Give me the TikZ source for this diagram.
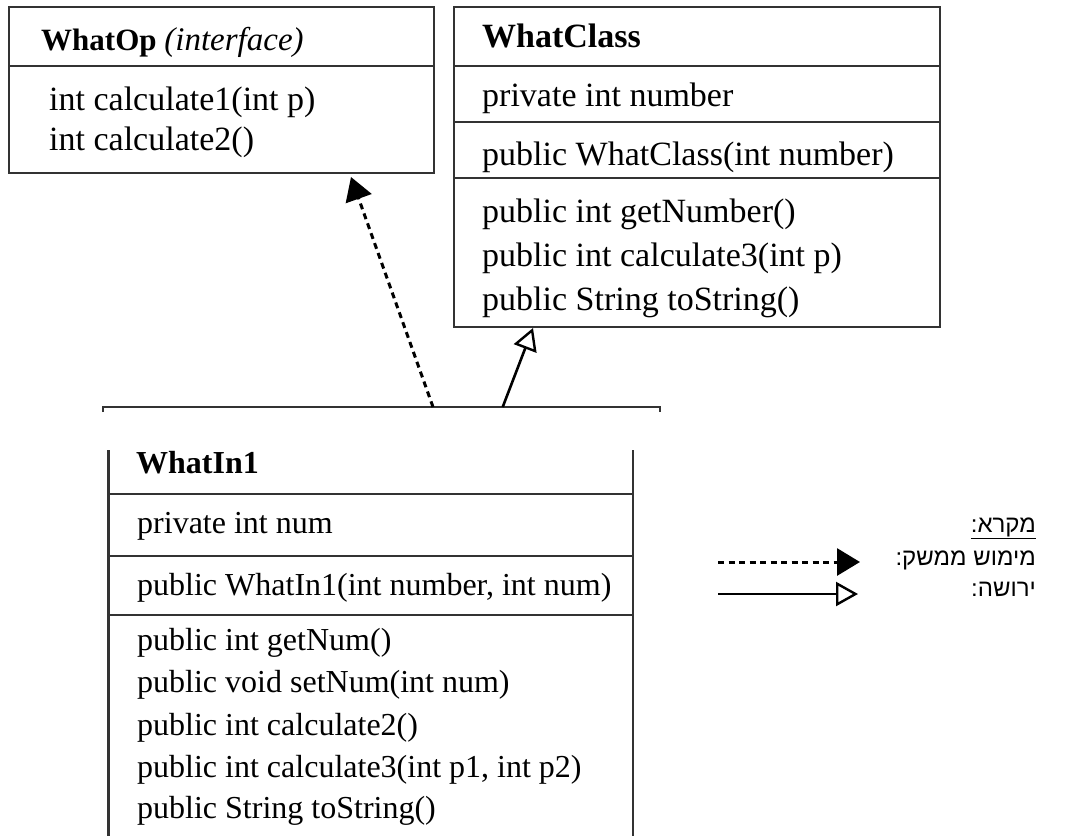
\documentclass[tikz,border=0pt]{standalone}
\usepackage{fontspec}
\setmainfont{Liberation Serif}
\newfontfamily\hebfont[Script=Hebrew]{Liberation Sans}
\TeXXeTstate=1
\usetikzlibrary{arrows.meta}

\begin{document}
\begin{tikzpicture}[x=1pt,y=-1pt,
  frame/.style={draw=black!80, line width=2.2pt, inner sep=0pt, anchor=north west},
  rule/.style={draw=black!80, line width=2.2pt},
  member/.style={anchor=base west, inner sep=0pt, font=\fontsize{34}{40}\selectfont},
  smallmember/.style={anchor=base west, inner sep=0pt, font=\fontsize{32}{38}\selectfont},
  title/.style={anchor=base west, inner sep=0pt},
  legendtext/.style={anchor=base east, inner sep=0pt, font=\hebfont\fontsize{24}{28}\selectfont},
  implements/.style={line width=3pt, dash pattern=on 6pt off 4.5pt,
    -{Triangle[length=23pt,width=27pt]}},
  extends/.style={line width=2.6pt,
    -{Triangle[open,length=22pt,width=24pt,fill=white,line width=2.4pt]}},
]
\useasboundingbox (0,0) rectangle (1068,836);

% ---- interface WhatOp
\node[frame, minimum width=425pt, minimum height=166pt] (whatop) at (8,6) {};
\draw[rule] (8,66) -- (433,66);
\node[title] (whatoptitle) at (41,50)
  {\fontsize{31}{36}\selectfont\bfseries WhatOp \mdseries\itshape\fontsize{33}{36}\selectfont(interface)};
\node[member] (op1) at (49,110) {int calculate1(int p)};
\node[member] (op2) at (49,150) {int calculate2()};

% ---- class WhatClass
\node[frame, minimum width=486pt, minimum height=320pt] (whatclass) at (453,6) {};
\draw[rule] (453,66) -- (939,66);
\draw[rule] (453,122) -- (939,122);
\draw[rule] (453,178) -- (939,178);
\node[title] (wctitle) at (482,47) {\fontsize{34}{40}\selectfont\bfseries WhatClass};
\node[member] (wcf) at (482,106) {private int number};
\node[member] (wcc) at (482,165) {public WhatClass(int number)};
\node[member] (wcm1) at (482,222) {public int getNumber()};
\node[member] (wcm2) at (482,266) {public int calculate3(int p)};
\node[member] (wcm3) at (482,310) {public String toString()};

% ---- class WhatIn1 (top edge drawn separately from the body)
\draw[rule] (102.6,412) -- (102.6,407) -- (660,407) -- (660,412);
\draw[rule] (108.5,450) -- (108.5,836);
\draw[rule] (633,450) -- (633,836);
\draw[rule] (108.5,494) -- (633,494);
\draw[rule] (108.5,556) -- (633,556);
\draw[rule] (108.5,615) -- (633,615);
\node[title] (wititle) at (136,473) {\fontsize{32}{38}\selectfont\bfseries WhatIn1};
\node[smallmember] (wif) at (137,533) {private int num};
\node[smallmember] (wic) at (137,595) {public WhatIn1(int number, int num)};
\node[smallmember] (wim1) at (137,650) {public int getNum()};
\node[smallmember] (wim2) at (137,692) {public void setNum(int num)};
\node[smallmember] (wim3) at (137,735) {public int calculate2()};
\node[smallmember] (wim4) at (137,777) {public int calculate3(int p1, int p2)};
\node[smallmember] (wim5) at (137,818) {public String toString()};

% ---- relations
\coordinate (implfrom) at (433,407);
\coordinate (implto) at (351,177);
\coordinate (extfrom) at (502.7,407);
\coordinate (extto) at (533,328);
\draw[implements] (implfrom) -- (implto);
\draw[extends] (extfrom) -- (extto);

% ---- legend
\node[legendtext] (legtitle) at (1036,532) {\underline{\beginR מקרא:\endR}};
\node[legendtext] (legimpl) at (1036,565) {\beginR מימוש ממשק:\endR};
\node[legendtext] (legext) at (1036,596) {\beginR ירושה:\endR};
\coordinate (la1) at (718,562);
\coordinate (lb1) at (860,562);
\coordinate (la2) at (718,594);
\coordinate (lb2) at (858,594);
\draw[implements] (la1) -- (lb1);
\draw[extends] (la2) -- (lb2);
\end{tikzpicture}
\end{document}
